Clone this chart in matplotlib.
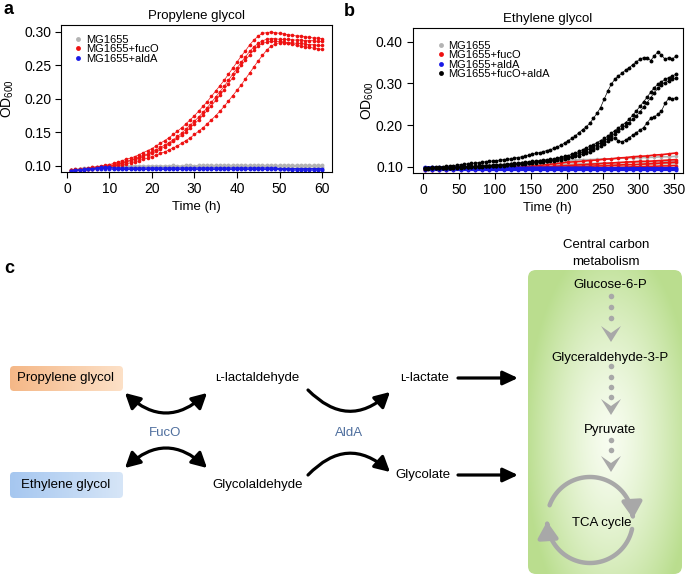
import numpy as np
import matplotlib
matplotlib.use('Agg')
import matplotlib.pyplot as plt
from matplotlib.patches import FancyBboxPatch, FancyArrowPatch, Polygon
from matplotlib.lines import Line2D
from matplotlib.path import Path

plt.rcParams['font.family'] = ['Liberation Sans', 'DejaVu Sans']
plt.rcParams['mathtext.default'] = 'regular'

# ---- panel a: propylene glycol, OD600 x1000, one value per hour (t = 1..60 h)
time_a = np.arange(1, 61)
pg_fucO = [
    [94, 95, 95, 96, 97, 98, 99, 100, 101, 102, 104, 106, 108, 110, 112, 114, 117, 120, 123, 126,
     130, 134, 138, 142, 147, 152, 157, 163, 169, 175, 182, 189, 196, 204, 212, 220, 228, 237, 246, 255,
     264, 272, 281, 288, 294, 298, 299, 300, 299, 298, 297, 296, 295, 294, 294, 293, 292, 291, 291, 290],
    [94, 94, 95, 95, 96, 97, 98, 99, 100, 101, 102, 104, 105, 107, 109, 111, 113, 116, 118, 121,
     124, 128, 131, 135, 139, 144, 149, 155, 161, 167, 173, 180, 187, 195, 203, 211, 219, 228, 237, 246,
     255, 263, 271, 278, 283, 287, 289, 290, 290, 289, 289, 289, 288, 288, 288, 287, 287, 287, 286, 286],
    [94, 94, 94, 95, 95, 96, 97, 98, 99, 100, 101, 103, 104, 106, 108, 110, 112, 114, 117, 119,
     122, 125, 129, 133, 137, 141, 146, 151, 157, 163, 169, 176, 183, 190, 198, 206, 214, 223, 232, 241,
     250, 258, 266, 273, 279, 283, 285, 286, 286, 286, 285, 284, 284, 283, 283, 282, 281, 281, 280, 280],
    [94, 94, 94, 94, 95, 95, 96, 97, 98, 99, 100, 101, 102, 103, 105, 106, 108, 110, 112, 114,
     116, 119, 121, 124, 127, 130, 134, 138, 142, 147, 152, 157, 163, 169, 175, 182, 189, 197, 205, 213,
     221, 230, 239, 248, 257, 265, 273, 279, 282, 284, 284, 283, 282, 280, 279, 278, 277, 276, 275, 274],
]
pg_wt = [
    [94, 95, 96, 97, 97, 98, 98, 99, 99, 99, 100, 100, 100, 100, 100, 100, 100, 100, 100, 100,
     100, 100, 100, 100, 101, 100, 100, 101, 101, 100, 101, 101, 101, 101, 101, 101, 101, 101, 101, 101,
     101, 101, 101, 101, 101, 101, 101, 101, 101, 101, 101, 101, 101, 101, 101, 101, 101, 101, 101, 101],
    [94, 94, 95, 96, 96, 97, 97, 98, 98, 98, 98, 99, 99, 99, 99, 99, 99, 99, 99, 99,
     99, 99, 99, 99, 99, 99, 99, 99, 99, 99, 99, 99, 99, 99, 99, 99, 99, 99, 99, 99,
     99, 99, 99, 99, 99, 99, 99, 99, 99, 99, 99, 99, 99, 99, 99, 99, 99, 99, 99, 99],
]
pg_aldA = [
    [93, 94, 94, 95, 96, 96, 97, 98, 98, 98, 97, 97, 97, 97, 97, 97, 97, 97, 97, 97,
     97, 97, 97, 97, 97, 97, 97, 97, 97, 97, 97, 97, 97, 97, 97, 97, 97, 97, 97, 97,
     97, 97, 97, 97, 97, 97, 97, 97, 97, 96, 96, 96, 96, 96, 96, 96, 96, 96, 96, 96],
    [93, 93, 94, 94, 95, 95, 96, 96, 96, 96, 95, 95, 95, 95, 95, 95, 95, 95, 95, 95,
     95, 95, 95, 95, 95, 95, 95, 95, 95, 95, 95, 95, 95, 95, 95, 95, 95, 95, 95, 95,
     95, 95, 95, 95, 95, 95, 95, 95, 95, 95, 95, 95, 94, 94, 94, 94, 94, 94, 94, 94],
]

# ---- panel b: ethylene glycol, OD600 x1000
time_b_fine = np.arange(2, 353, 5)     # every 5 h
time_b = np.arange(2, 353, 10)         # every 10 h
eg_both = [
    [97, 98, 99, 99, 100, 100, 101, 102, 103, 104, 105, 106, 107, 108, 109, 110, 111, 112, 113, 114,
     115, 116, 117, 118, 119, 121, 122, 124, 126, 128, 130, 132, 134, 136, 139, 141, 144, 148, 152, 157,
     163, 168, 174, 182, 189, 196, 204, 216, 228, 242, 262, 281, 298, 310, 318, 325, 332, 338, 345, 352,
     358, 362, 362, 355, 366, 376, 368, 358, 362, 358, 366],
    [96, 96, 97, 97, 97, 98, 98, 98, 99, 99, 100, 100, 100, 101, 101, 102, 102, 103, 103, 104,
     104, 105, 105, 106, 107, 108, 109, 110, 111, 112, 113, 114, 115, 116, 117, 118, 119, 121, 123, 125,
     127, 130, 133, 137, 141, 145, 149, 153, 158, 163, 168, 173, 180, 187, 193, 200, 206, 214, 224, 234,
     245, 256, 267, 279, 290, 298, 304, 310, 314, 318, 322],
    [96, 96, 96, 97, 97, 97, 98, 98, 98, 99, 99, 99, 100, 100, 100, 101, 101, 102, 102, 103,
     103, 104, 104, 105, 106, 106, 107, 108, 109, 110, 111, 112, 113, 114, 115, 116, 117, 119, 120, 122,
     124, 126, 129, 132, 135, 139, 143, 147, 152, 157, 162, 167, 173, 179, 185, 192, 199, 206, 214, 222,
     232, 243, 254, 266, 278, 288, 296, 302, 306, 310, 313],
    [95, 95, 96, 96, 96, 97, 97, 97, 98, 98, 98, 99, 99, 99, 100, 100, 100, 101, 101, 102,
     102, 103, 103, 104, 104, 105, 106, 106, 107, 108, 109, 110, 111, 112, 113, 114, 115, 116, 117, 119,
     121, 123, 125, 127, 130, 133, 136, 140, 144, 149, 155, 161, 167, 170, 162, 160, 164, 170, 176, 182,
     188, 194, 206, 216, 220, 226, 234, 252, 264, 262, 266],
]
eg_fucO = [
    [94, 94, 94, 95, 95, 95, 96, 96, 97, 97, 98, 98, 99, 99, 100, 101, 103, 105, 107, 109,
     111, 112, 113, 115, 116, 118, 119, 121, 122, 124, 125, 126, 128, 129, 131, 133],
    [93, 93, 94, 94, 94, 94, 95, 95, 95, 96, 96, 96, 97, 97, 98, 98, 99, 100, 101, 102,
     103, 104, 105, 106, 107, 108, 109, 110, 111, 112, 113, 113, 114, 115, 116, 117],
    [93, 93, 93, 93, 94, 94, 94, 94, 94, 95, 95, 95, 95, 96, 96, 96, 97, 97, 98, 98,
     99, 100, 100, 101, 102, 102, 103, 104, 105, 105, 106, 107, 108, 109, 110, 111],
    [92, 92, 92, 93, 93, 93, 93, 93, 93, 93, 94, 94, 94, 94, 94, 95, 95, 95, 95, 96,
     96, 96, 97, 97, 97, 98, 98, 99, 99, 100, 100, 101, 101, 102, 102, 103],
]
eg_wt = [
    [97, 98, 99, 100, 101, 102, 102, 103, 104, 105, 105, 106, 107, 108, 109, 110, 111, 112, 113, 114,
     115, 116, 117, 117, 118, 119, 119, 120, 121, 121, 122, 122, 123, 124, 124, 125],
    [96, 97, 97, 98, 98, 99, 99, 100, 100, 101, 101, 102, 102, 103, 103, 104, 104, 105, 105, 106,
     106, 107, 107, 108, 108, 109, 109, 110, 110, 111, 111, 112, 112, 113, 113, 114],
    [95, 96, 96, 96, 97, 97, 97, 98, 98, 98, 99, 99, 99, 100, 100, 100, 101, 101, 101, 102,
     102, 102, 103, 103, 103, 104, 104, 104, 105, 105, 105, 106, 106, 107, 107, 108],
]
eg_aldA = [
    [99, 99, 99, 99, 99, 99, 99, 99, 98, 98, 98, 98, 98, 98, 98, 98, 98, 98, 98, 98,
     98, 98, 98, 98, 97, 97, 97, 97, 97, 97, 97, 97, 97, 97, 97, 97],
    [96, 96, 96, 96, 96, 96, 96, 96, 96, 96, 96, 96, 96, 95, 95, 95, 95, 95, 95, 95,
     95, 95, 95, 95, 95, 95, 95, 95, 95, 95, 95, 95, 95, 95, 95, 95],
    [93, 93, 93, 93, 93, 93, 93, 93, 93, 93, 93, 93, 93, 93, 93, 93, 93, 93, 93, 93,
     93, 93, 93, 93, 93, 93, 93, 93, 93, 93, 93, 93, 93, 93, 93, 93],
]

labels_a = ['MG1655', 'MG1655+fucO', 'MG1655+aldA']
labels_b = ['MG1655', 'MG1655+fucO', 'MG1655+aldA', 'MG1655+fucO+aldA']
c_gray, c_red, c_blue, c_black = '#b3b3b3', '#ee1111', '#1a1ae6', 'black'

fig = plt.figure(figsize=(6.85, 5.76), dpi=100)

# ---------- panel c (diagram), pixel coordinates ----------
axc = fig.add_axes([0, 0, 1, 1])
axc.axis('off')


def gradient_box(x0, y0, w, h, rgb, rad):
    patch = FancyBboxPatch((x0, y0), w, h, boxstyle=f'round,pad=0,rounding_size={rad}',
                           fc='none', ec='none')
    axc.add_patch(patch)
    im = axc.imshow(rgb, extent=(x0, x0 + w, y0 + h, y0), aspect='auto',
                    interpolation='bilinear', zorder=1)
    im.set_clip_path(patch)


def hgrad(c1, c2, n=64):
    f = np.linspace(0, 1, n)[None, :, None]
    return np.array(c1)[None, None, :] * (1 - f) + np.array(c2)[None, None, :] * f


gradient_box(10, 366, 113, 25, hgrad((0.96, 0.72, 0.53), (0.99, 0.88, 0.78)), 4)
gradient_box(10, 472, 113, 26, hgrad((0.65, 0.78, 0.94), (0.84, 0.90, 0.97)), 4)

# green central-carbon box with soft radial gradient
gx, gy = np.meshgrid(np.linspace(528, 682, 120), np.linspace(270, 574, 240))
d = np.clip(np.sqrt(((gx - 610) / 85) ** 2 + ((gy - 440) / 200) ** 2), 0, 1) ** 1.4
edge = np.array((0.73, 0.87, 0.56))
centre = np.array((0.97, 0.99, 0.94))
green = centre[None, None, :] * (1 - d[..., None]) + edge[None, None, :] * d[..., None]
gradient_box(528, 270, 154, 304, green, 8)

txt = dict(ha='center', va='center', fontsize=9.5, zorder=3)
axc.text(66, 378, 'Propylene glycol', **txt)
axc.text(66, 485, 'Ethylene glycol', **txt)
axc.text(257, 378, '\u029f-lactaldehyde', **txt)
axc.text(258, 485, 'Glycolaldehyde', **txt)
axc.text(165, 433, 'FucO', color='#4f6f9e', **txt)
axc.text(349, 433, 'AldA', color='#4f6f9e', **txt)
axc.text(425, 378, '\u029f-lactate', **txt)
axc.text(423, 475, 'Glycolate', **txt)
axc.text(606, 245, 'Central carbon', **txt)
axc.text(606, 262, 'metabolism', **txt)
axc.text(610, 285, 'Glucose-6-P', **txt)
axc.text(610, 358, 'Glyceraldehyde-3-P', **txt)
axc.text(610, 430, 'Pyruvate', **txt)
axc.text(602, 523, 'TCA cycle', **txt)

arc_kw = dict(lw=2.3, color='black', shrinkA=0, shrinkB=0, mutation_scale=12, zorder=3)
axc.add_patch(FancyArrowPatch((125, 393), (207, 393), connectionstyle='arc3,rad=0.46',
                              arrowstyle='<|-|>,head_length=0.75,head_width=0.4', **arc_kw))
axc.add_patch(FancyArrowPatch((125, 468), (207, 468), connectionstyle='arc3,rad=-0.46',
                              arrowstyle='<|-|>,head_length=0.75,head_width=0.4', **arc_kw))
axc.add_patch(FancyArrowPatch((308, 390), (390, 392), connectionstyle='arc3,rad=0.48',
                              arrowstyle='-|>,head_length=0.75,head_width=0.4', **arc_kw))
axc.add_patch(FancyArrowPatch((308, 475), (390, 472), connectionstyle='arc3,rad=-0.48',
                              arrowstyle='-|>,head_length=0.75,head_width=0.4', **arc_kw))
axc.add_patch(FancyArrowPatch((458, 378), (518, 378),
                              arrowstyle='-|>,head_length=0.75,head_width=0.35', **arc_kw))
axc.add_patch(FancyArrowPatch((458, 475), (518, 475),
                              arrowstyle='-|>,head_length=0.75,head_width=0.35', **arc_kw))

# dotted pathway steps in the green box
grey = '#a8a8a8'
for ys, tip in [((296, 307, 318), 342), ((366, 377, 387, 397), 415), ((440, 450), 472)]:
    axc.plot([611] * len(ys), ys, 'o', color=grey, ms=4, mew=0, zorder=3)
    axc.add_patch(Polygon([(611, tip), (601, tip - 16), (611, tip - 9), (621, tip - 16)],
                          closed=True, fc=grey, ec='none', zorder=3))

# TCA cycle arrows
cx, cy, r = 590, 520, 43
for a0, a1 in [(160, 2), (-12, -178)]:
    th = np.radians(np.linspace(a0, a1, 60))
    verts = np.column_stack([cx + r * np.cos(th), cy - r * np.sin(th)])
    axc.add_patch(FancyArrowPatch(path=Path(verts), arrowstyle='-|>,head_length=0.8,head_width=0.5',
                                  mutation_scale=12, lw=3.2, color=grey, zorder=3))

axc.set_xlim(0, 685)
axc.set_ylim(576, 0)


# ---------- growth curves ----------
def curves(ax, t, reps, color, ms, lw):
    for rep in reps:
        ax.plot(t, np.array(rep) / 1000, '-o', color=color, ms=ms, lw=lw, mew=0)


def style(ax):
    for s in ax.spines.values():
        s.set_linewidth(0.8)
    ax.tick_params(direction='out', length=4, width=0.8, labelsize=10, pad=3)
    ax.yaxis.set_major_formatter(plt.FormatStrFormatter('%.2f'))


axa = fig.add_axes([61 / 685, 1 - 172 / 576, 271 / 685, 147 / 576])
curves(axa, time_a, pg_wt, c_gray, 2.8, 0.9)
curves(axa, time_a, pg_fucO, c_red, 2.6, 0.5)
curves(axa, time_a, pg_aldA, c_blue, 2.8, 0.9)
axa.set_xlim(-1.4, 62.35)
axa.set_ylim(0.091, 0.3104)
axa.set_xticks(np.arange(0, 61, 10))
axa.set_yticks([0.10, 0.15, 0.20, 0.25, 0.30])
style(axa)
axa.set_title('Propylene glycol', fontsize=9.5, pad=4)
axa.set_xlabel('Time (h)', fontsize=9.5)
axa.set_ylabel('OD$_{600}$', fontsize=10)
axa.xaxis.set_label_coords(0.5, -0.2)
axa.yaxis.set_label_coords(-0.165, 0.5)
handles = [Line2D([], [], ls='none', marker='o', ms=3.5, mew=0, color=c)
           for c in (c_gray, c_red, c_blue)]
axa.legend(handles, labels_a, loc='upper left', frameon=False, fontsize=8,
           handlelength=0.6, handletextpad=0.4, labelspacing=-0.05,
           borderaxespad=0.35, bbox_to_anchor=(0.02, 0.99))

axb = fig.add_axes([412.7 / 685, 1 - 173 / 576, 270.3 / 685, 145 / 576])
curves(axb, time_b, eg_wt, c_gray, 2.6, 1.2)
curves(axb, time_b, eg_fucO, c_red, 2.6, 1.2)
curves(axb, time_b, eg_aldA, c_blue, 2.8, 1.6)
curves(axb, time_b_fine, eg_both, c_black, 2.8, 0.5)
axb.set_xlim(-14.8, 362)
axb.set_ylim(0.085, 0.433)
axb.set_xticks(np.arange(0, 351, 50))
axb.set_yticks([0.10, 0.20, 0.30, 0.40])
style(axb)
axb.set_title('Ethylene glycol', fontsize=9.5, pad=4)
axb.set_xlabel('Time (h)', fontsize=9.5)
axb.set_ylabel('OD$_{600}$', fontsize=10)
axb.xaxis.set_label_coords(0.5, -0.2)
axb.yaxis.set_label_coords(-0.135, 0.5)
handles = [Line2D([], [], ls='none', marker='o', ms=3.5, mew=0, color=c)
           for c in (c_gray, c_red, c_blue, c_black)]
axb.legend(handles, labels_b, loc='upper left', frameon=False, fontsize=8,
           handlelength=0.6, handletextpad=0.4, labelspacing=-0.05,
           borderaxespad=0.35, bbox_to_anchor=(0.06, 0.97))

fig.text(4 / 685, 1 - 1 / 576, 'a', fontsize=13, fontweight='bold', va='top')
fig.text(344 / 685, 1 - 3 / 576, 'b', fontsize=13, fontweight='bold', va='top')
fig.text(4 / 685, 1 - 260 / 576, 'c', fontsize=13, fontweight='bold', va='top')

fig.savefig('out.png', dpi=100)
